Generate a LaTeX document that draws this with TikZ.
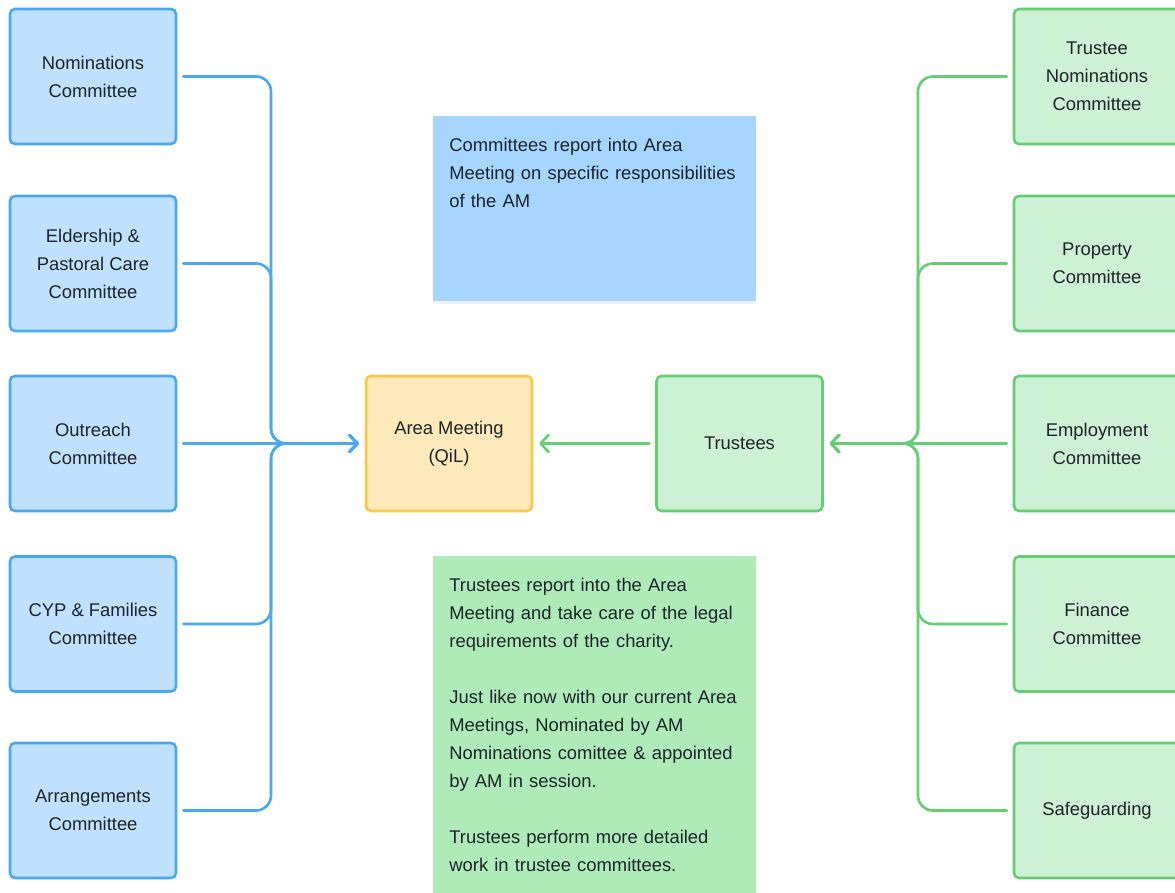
\documentclass[tikz,border=0pt]{standalone}
\usepackage{fontspec}
\setmainfont{Liberation Sans}
\usepackage{xcolor}
\usepackage{tikz}
\usetikzlibrary{arrows.meta, positioning, shadows, calc}

\definecolor{blueline}{HTML}{47A9F5}
\definecolor{bluefill}{HTML}{BFE1FD}
\definecolor{amline}{HTML}{FAC846}
\definecolor{amfill}{HTML}{FDE9B9}
\definecolor{greenline}{HTML}{62CF73}
\definecolor{greenfill}{HTML}{CEF0D4}
\definecolor{bluenote}{HTML}{A6D6FF}
\definecolor{greennote}{HTML}{AFEBB9}
\definecolor{inkdark}{HTML}{1E2429}

\tikzstyle{committee} = [rectangle, rounded corners=2.5pt, minimum width=83pt, minimum height=67.5pt, align=center, line width=1.3pt, draw=blueline, fill=bluefill, text=inkdark, font=\fontsize{9.2}{14}\selectfont]
\tikzstyle{trustbox} = [committee, draw=greenline, fill=greenfill]
\tikzstyle{meeting} = [committee, draw=amline, fill=amfill]
\tikzstyle{note} = [rectangle, anchor=north west, align=left, text width=145.5pt, inner xsep=8pt, inner ysep=11pt, text=inkdark, font=\fontsize{9.2}{14}\selectfont]
\tikzstyle{bluelink} = [line width=1.3pt, draw=blueline, rounded corners=7.5pt, shorten <=3pt, shorten >=3pt, line cap=round, -{Straight Barb[length=4pt, width=8.5pt, round]}]
\tikzstyle{greenlink} = [bluelink, draw=greenline]

\begin{document}
\begin{tikzpicture}[x=0.5pt, y=-0.5pt]
    \useasboundingbox (0,0) rectangle (1175,893);
    \clip (0,0) rectangle (1175,893);

    % Committees of the Area Meeting
    \node[committee] (nom) at (93,76.5) {Nominations\\Committee};
    \node[committee] (eld) at (93,263.5) {Eldership \&\\Pastoral Care\\Committee};
    \node[committee] (out) at (93,443.5) {Outreach\\Committee};
    \node[committee] (cyp) at (93,624) {CYP \& Families\\Committee};
    \node[committee] (arr) at (93,810.5) {Arrangements\\Committee};

    % Centre
    \node[meeting] (am) at (449,443.5) {Area Meeting\\(QiL)};
    \node[trustbox] (trs) at (739.5,443.5) {Trustees};

    % Trustee committees
    \node[trustbox] (tnc) at (1097,76.5) {Trustee\\Nominations\\Committee};
    \node[trustbox] (prop) at (1097,263.5) {Property\\Committee};
    \node[trustbox] (emp) at (1097,443.5) {Employment\\Committee};
    \node[trustbox] (fin) at (1097,624) {Finance\\Committee};
    \node[trustbox] (safe) at (1097,810.5) {Safeguarding};

    % Notes
    \node[note, fill=bluenote, text depth=63.5pt,
          drop shadow={opacity=0.12, shadow xshift=0pt, shadow yshift=-1.5pt}] (amnote) at (433,116)
        {Committees report into Area\\Meeting on specific responsibilities\\of the AM};
    \node[note, fill=greennote, text depth=165pt] (trnote) at (433,556)
        {Trustees report into the Area\\Meeting and take care of the legal\\requirements of the charity.\\[14pt]
         Just like now with our current Area\\Meetings, Nominated by AM\\Nominations comittee \& appointed\\by AM in session.\\[14pt]
         Trustees perform more detailed\\work in trustee committees.};

    % Hubs
    \coordinate (lhub) at (271,443.5);
    \coordinate (rhub) at (918,443.5);

    % Flows
    \draw[bluelink] (nom.east) -| (lhub) -- (am.west);
    \draw[bluelink] (eld.east) -| (lhub) -- (am.west);
    \draw[bluelink] (out.east) -- (am.west);
    \draw[bluelink] (cyp.east) -| (lhub) -- (am.west);
    \draw[bluelink] (arr.east) -| (lhub) -- (am.west);
    \draw[greenlink] (trs.west) -- (am.east);
    \draw[greenlink] (tnc.west) -| (rhub) -- (trs.east);
    \draw[greenlink] (prop.west) -| (rhub) -- (trs.east);
    \draw[greenlink] (emp.west) -- (trs.east);
    \draw[greenlink] (fin.west) -| (rhub) -- (trs.east);
    \draw[greenlink] (safe.west) -| (rhub) -- (trs.east);

\end{tikzpicture}
\end{document}
